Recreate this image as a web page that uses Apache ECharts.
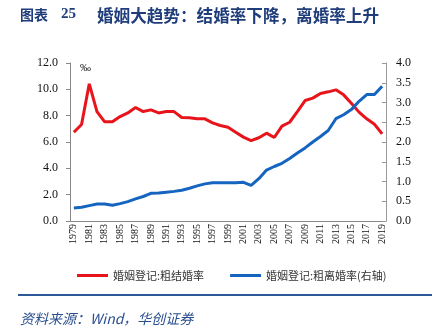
<!DOCTYPE html>
<html><head><meta charset="utf-8">
<script src="https://cdn.jsdelivr.net/npm/echarts@6/dist/echarts.min.js"></script>
<style>html,body{margin:0;padding:0;background:#fff}#c{width:441px;height:331px}</style>
</head><body><div id="c"></div>
<script>
var years = [];
for (var y = 1979; y <= 2019; y++) years.push(String(y));
var marriageRate = [6.74,7.33,10.42,8.31,7.53,7.53,7.93,8.21,8.62,8.31,8.44,8.21,8.31,8.31,7.86,7.84,7.76,7.76,7.45,7.25,7.12,6.74,6.37,6.11,6.32,6.67,6.34,7.2,7.5,8.31,9.15,9.33,9.68,9.81,9.96,9.58,8.95,8.27,7.76,7.35,6.62];
var divorceRate = [0.33,0.35,0.39,0.43,0.43,0.40,0.44,0.49,0.56,0.62,0.70,0.71,0.73,0.75,0.78,0.83,0.89,0.94,0.97,0.97,0.97,0.97,0.98,0.90,1.07,1.29,1.38,1.46,1.58,1.72,1.85,2.0,2.14,2.29,2.59,2.69,2.82,3.03,3.2,3.2,3.41];
var seriesNames = ['婚姻登记:粗结婚率','婚姻登记:粗离婚率(右轴)'];
var RED = '#e8141c', BLUE = '#1565c0';
var serif = '"Liberation Serif","Times New Roman",serif';
var cjk = '"Noto Sans CJK SC",sans-serif';
var chart = echarts.init(document.getElementById('c'), null, {renderer:'canvas'});
chart.setOption({
  animation:false,
  backgroundColor:'#fff',
  grid:{left:70,right:55,top:63,bottom:110},
  legend:{
    left:72, top:265, icon:'rect', itemWidth:31, itemHeight:3, itemGap:26,
    textStyle:{fontFamily:cjk,fontSize:11,color:'#333'},
    data:seriesNames
  },
  xAxis:{
    type:'category', data:years, boundaryGap:true,
    axisLine:{lineStyle:{color:'#888',width:1}},
    axisTick:{interval:1,length:5,lineStyle:{color:'#888'}},
    axisLabel:{interval:1,rotate:90,margin:3,fontFamily:serif,fontSize:10,color:'#111'}
  },
  yAxis:[
    {type:'value',min:0,max:12,interval:2,
     axisLine:{show:true,lineStyle:{color:'#888'}},
     axisTick:{show:true,length:4,lineStyle:{color:'#888'}},
     splitLine:{show:false},
     axisLabel:{margin:12,fontFamily:serif,fontSize:12,color:'#111',formatter:function(v){return v.toFixed(1);}}},
    {type:'value',min:0,max:4,interval:0.5,position:'right',
     axisLine:{show:true,lineStyle:{color:'#999'}},
     axisTick:{show:true,inside:true,length:4,lineStyle:{color:'#999'}},
     splitLine:{show:false},
     axisLabel:{margin:10,fontFamily:serif,fontSize:12,color:'#111',formatter:function(v){return v.toFixed(1);}}}
  ],
  series:[
    {name:seriesNames[0],type:'line',data:marriageRate,yAxisIndex:0,symbol:'none',
     lineStyle:{color:RED,width:3},itemStyle:{color:RED}},
    {name:seriesNames[1],type:'line',data:divorceRate,yAxisIndex:1,symbol:'none',
     lineStyle:{color:BLUE,width:3},itemStyle:{color:BLUE}}
  ],
  graphic:[
    {type:'text',left:20,top:8,style:{text:'图表',font:'bold 14px '+cjk,fill:'#1f3d7a'}},
    {type:'text',left:61,top:7,style:{text:'25',font:'bold 15px '+serif,fill:'#1f3d7a'}},
    {type:'text',left:97,top:7,style:{text:'婚姻大趋势：结婚率下降，离婚率上升',font:'bold 16.6px '+cjk,fill:'#1f3d7a'}},
    {type:'text',left:80,top:63,style:{text:'‰',font:'11px '+serif,fill:'#111'}},
    {type:'rect',shape:{x:18,y:294,width:414,height:2},style:{fill:'#2e5a9a'}},
    {type:'text',left:20,top:312,style:{text:'资料来源：Wind，华创证券',font:'italic 14px '+cjk,fill:'#2a4f8f'}}
  ]
});
</script></body></html>
